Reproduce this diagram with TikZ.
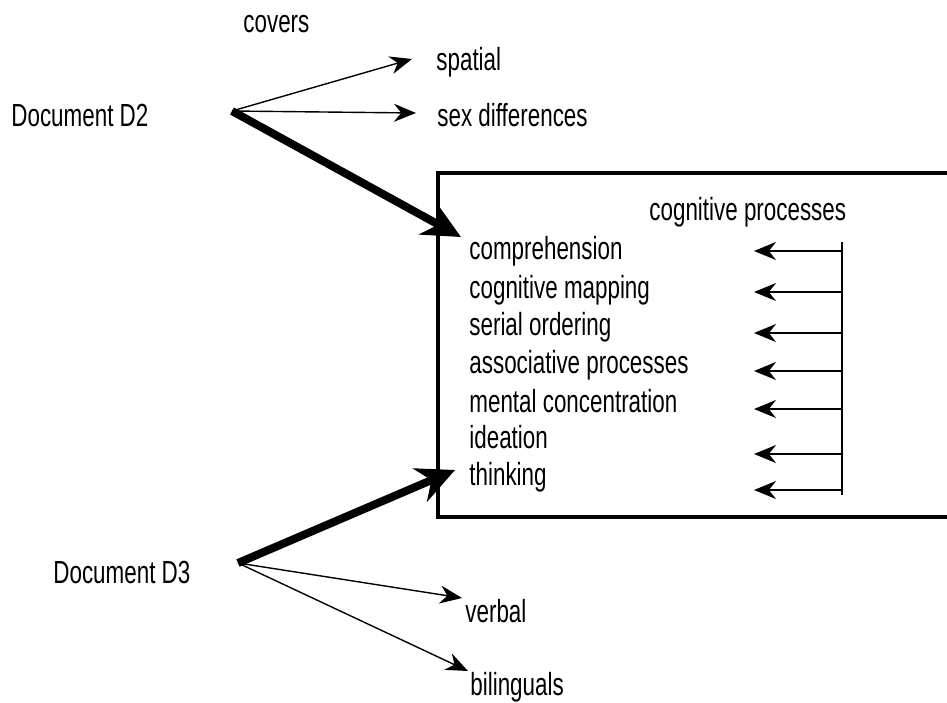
\documentclass[tikz,border=0pt]{standalone}
\usepackage{fontspec}
\setmainfont[FakeStretch=0.7]{Liberation Sans}
\usetikzlibrary{arrows.meta}
\begin{document}
\begin{tikzpicture}[x=0.5pt,y=-0.5pt,
  lbl/.style={anchor=base west,inner sep=0pt,font=\fontsize{16}{19}\selectfont},
  thinarrow/.style={-{Stealth[length=11pt,width=9pt]},line width=0.7pt},
  thickarrow/.style={-{Stealth[length=19pt,width=18pt]},line width=4pt}]
\useasboundingbox (0,0) rectangle (947,702);
\draw (243,32) node[lbl] (covers) {covers};
\draw (11,126) node[lbl] (docA) {Document D2};
\draw (436,70) node[lbl] (spatial) {spatial};
\draw (437,126) node[lbl] (sex) {sex differences};
\draw (53,583) node[lbl] (docB) {Document D3};
\draw (465,622) node[lbl] (verbal) {verbal};
\draw (470,695) node[lbl] (biling) {bilinguals};
\coordinate (d2) at (232,111);
\coordinate (d3) at (238,563);
% the box, open to the right
\draw[line width=2pt] (960,173)--(438,173)--(438,517)--(960,517);
\draw (649,220) node[lbl] (cogproc) {cognitive processes};
\foreach \nm/\txt/\y in {comp/comprehension/259,mapping/cognitive mapping/298,
  serial/serial ordering/335,assoc/associative processes/373,
  mental/mental concentration/412,ideation/ideation/448,thinking/thinking/485}
  {\draw (469,\y) node[lbl] (\nm) {\txt};}
\coordinate (vtop) at (842,242);
\coordinate (vbot) at (842,495);
\draw[line width=1pt] (vtop)--(vbot);
\foreach \y in {251,292,333,371,409,454,490}{\draw[thinarrow] (vtop|-0,\y)--(754,\y);}
% D2
\draw[thinarrow] (d2)--([shift={(-24,-11)}]spatial.base west);
\draw[thinarrow] (d2)--([shift={(-21,-13)}]sex.base west);
\draw[thickarrow] (d2)--([shift={(-8,-22)}]comp.base west);
% D3
\draw[thickarrow] (d3)--([shift={(-14,-15)}]thinking.base west);
\draw[thinarrow] (d3)--([shift={(-3,-24)}]verbal.base west);
\draw[thinarrow] (d3)--([shift={(-2,-24)}]biling.base west);
\end{tikzpicture}
\end{document}
